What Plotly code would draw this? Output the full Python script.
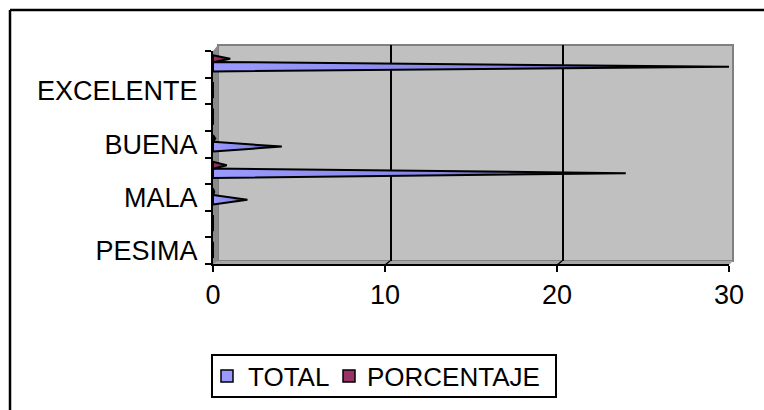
import plotly.graph_objects as go

# Rating categories, bottom to top; only every other one gets a label
categories = ["PESIMA", "MUY MALA", "MALA", "REGULAR", "BUENA", "MUY BUENA", "EXCELENTE", "TOTAL"]
total = [0, 0, 2, 24, 4, 0, 0, 30]
porcentaje = [0, 0, 0.07, 0.8, 0.13, 0, 0, 1]
x_ticks = [0, 10, 20, 30]
series_names = ["TOTAL", "PORCENTAJE"]
series_colors = ["#9999FF", "#993366"]

FONT = "Liberation Sans, Arial, sans-serif"
W, H = 764, 410
ML, MR, MT, MB = 213, 35, 51, 146
PW, PH = W - ML - MR, H - MT - MB


def px(x):
    return (x - ML) / PW


def py(y):
    return (H - MB - y) / PH


def cone(value, center, half, colors):
    xs = [0, value, 0, 0]
    ys = [center - half, center, center + half, center - half]
    return go.Scatter(
        x=xs, y=ys, mode="lines", fill="toself", showlegend=False,
        line=dict(color="black", width=2),
        fillcolor=colors[0][1],
        fillgradient=dict(type="horizontal", colorscale=colors, start=0, stop=max(value, 1e-6)),
        hoverinfo="skip",
    )


blue = [[0, "#9999FF"], [0.55, "#8787E8"], [0.85, "#3a3a70"], [1, "#101020"]]
maroon = [[0, "#993366"], [0.7, "#7a2850"], [1, "#2a0d1c"]]

fig = go.Figure()
for i, (t, p) in enumerate(zip(total, porcentaje)):
    fig.add_trace(cone(t, i - 0.09, 0.18, blue))
    fig.add_trace(cone(p, i + 0.21, 0.13, maroon))

shapes = [
    # back wall
    dict(type="rect", xref="paper", yref="paper", x0=px(218), x1=px(733), y0=py(261), y1=py(45),
         fillcolor="#C0C0C0", line=dict(color="#808080", width=2), layer="below"),
    # side wall
    dict(type="path", xref="paper", yref="paper", layer="below",
         path=f"M{px(213)},{py(51)} L{px(218)},{py(45)} L{px(218)},{py(261)} L{px(213)},{py(265)} Z",
         fillcolor="#8a8a8a", line=dict(width=0)),
    # floor
    dict(type="path", xref="paper", yref="paper", layer="below",
         path=f"M{px(213)},{py(265)} L{px(218)},{py(261)} L{px(733)},{py(261)} L{px(729)},{py(265)} Z",
         fillcolor="#a6a6a6", line=dict(width=0)),
    # outer chart frame (top and left edges)
    dict(type="line", xref="paper", yref="paper", x0=px(10), x1=px(W + 5), y0=py(10), y1=py(10),
         line=dict(color="black", width=2.5)),
    dict(type="line", xref="paper", yref="paper", x0=px(10), x1=px(10), y0=py(10), y1=py(H + 5),
         line=dict(color="black", width=2.5)),
    # legend frame
    dict(type="rect", xref="paper", yref="paper", x0=px(212), x1=px(556), y0=py(397), y1=py(355),
         fillcolor="white", line=dict(color="black", width=2)),
]
# gridlines on the back wall plus the perspective connectors at each tick
for v in x_ticks:
    if 0 < v < 30:
        shapes.append(dict(type="line", xref="x", xsizemode="pixel", xanchor=v, x0=6, x1=6,
                           yref="paper", y0=py(261), y1=py(45), line=dict(color="black", width=2),
                           layer="below"))
    if v > 0:
        shapes.append(dict(type="line", xref="x", xsizemode="pixel", xanchor=v, x0=0, x1=5,
                           yref="paper", y0=py(265), y1=py(261), line=dict(color="black", width=1.5)))

# legend entries: bordered swatch followed by the series name
annotations = []
for (sx, tx), name, col in zip([(221, 246), (343, 365)], series_names, series_colors):
    shapes.append(dict(type="rect", xref="paper", yref="paper", x0=px(sx), x1=px(sx + 12),
                       y0=py(382), y1=py(370), fillcolor=col, line=dict(color="black", width=1.5)))
    annotations.append(dict(xref="paper", yref="paper", x=px(tx), y=py(376.5), text=name,
                            showarrow=False, xanchor="left", yanchor="middle",
                            font=dict(family=FONT, size=26, color="black")))

fig.update_layout(
    width=W, height=H,
    margin=dict(l=ML, r=MR, t=MT, b=MB, pad=0),
    paper_bgcolor="white", plot_bgcolor="rgba(0,0,0,0)",
    font=dict(family=FONT, size=27, color="black"),
    shapes=shapes, annotations=annotations,
    showlegend=False,
    xaxis=dict(
        range=[0, 30], tickvals=x_ticks, showgrid=False, zeroline=False,
        showline=True, linecolor="black", linewidth=2,
        ticks="outside", ticklen=6, tickwidth=2, tickcolor="black",
        tickfont=dict(family=FONT, size=27), fixedrange=True,
    ),
    yaxis=dict(
        range=[-0.5, 7.5], tickvals=list(range(0, len(categories), 2)),
        ticktext=categories[::2], showgrid=False, zeroline=False,
        showline=True, linecolor="black", linewidth=2,
        ticks="", ticklabelstandoff=8,
        minor=dict(tick0=-0.5, dtick=1, ticks="outside", ticklen=6, tickwidth=2, tickcolor="black"),
        tickfont=dict(family=FONT, size=27), fixedrange=True,
    ),
)

fig.write_html("out.html")
